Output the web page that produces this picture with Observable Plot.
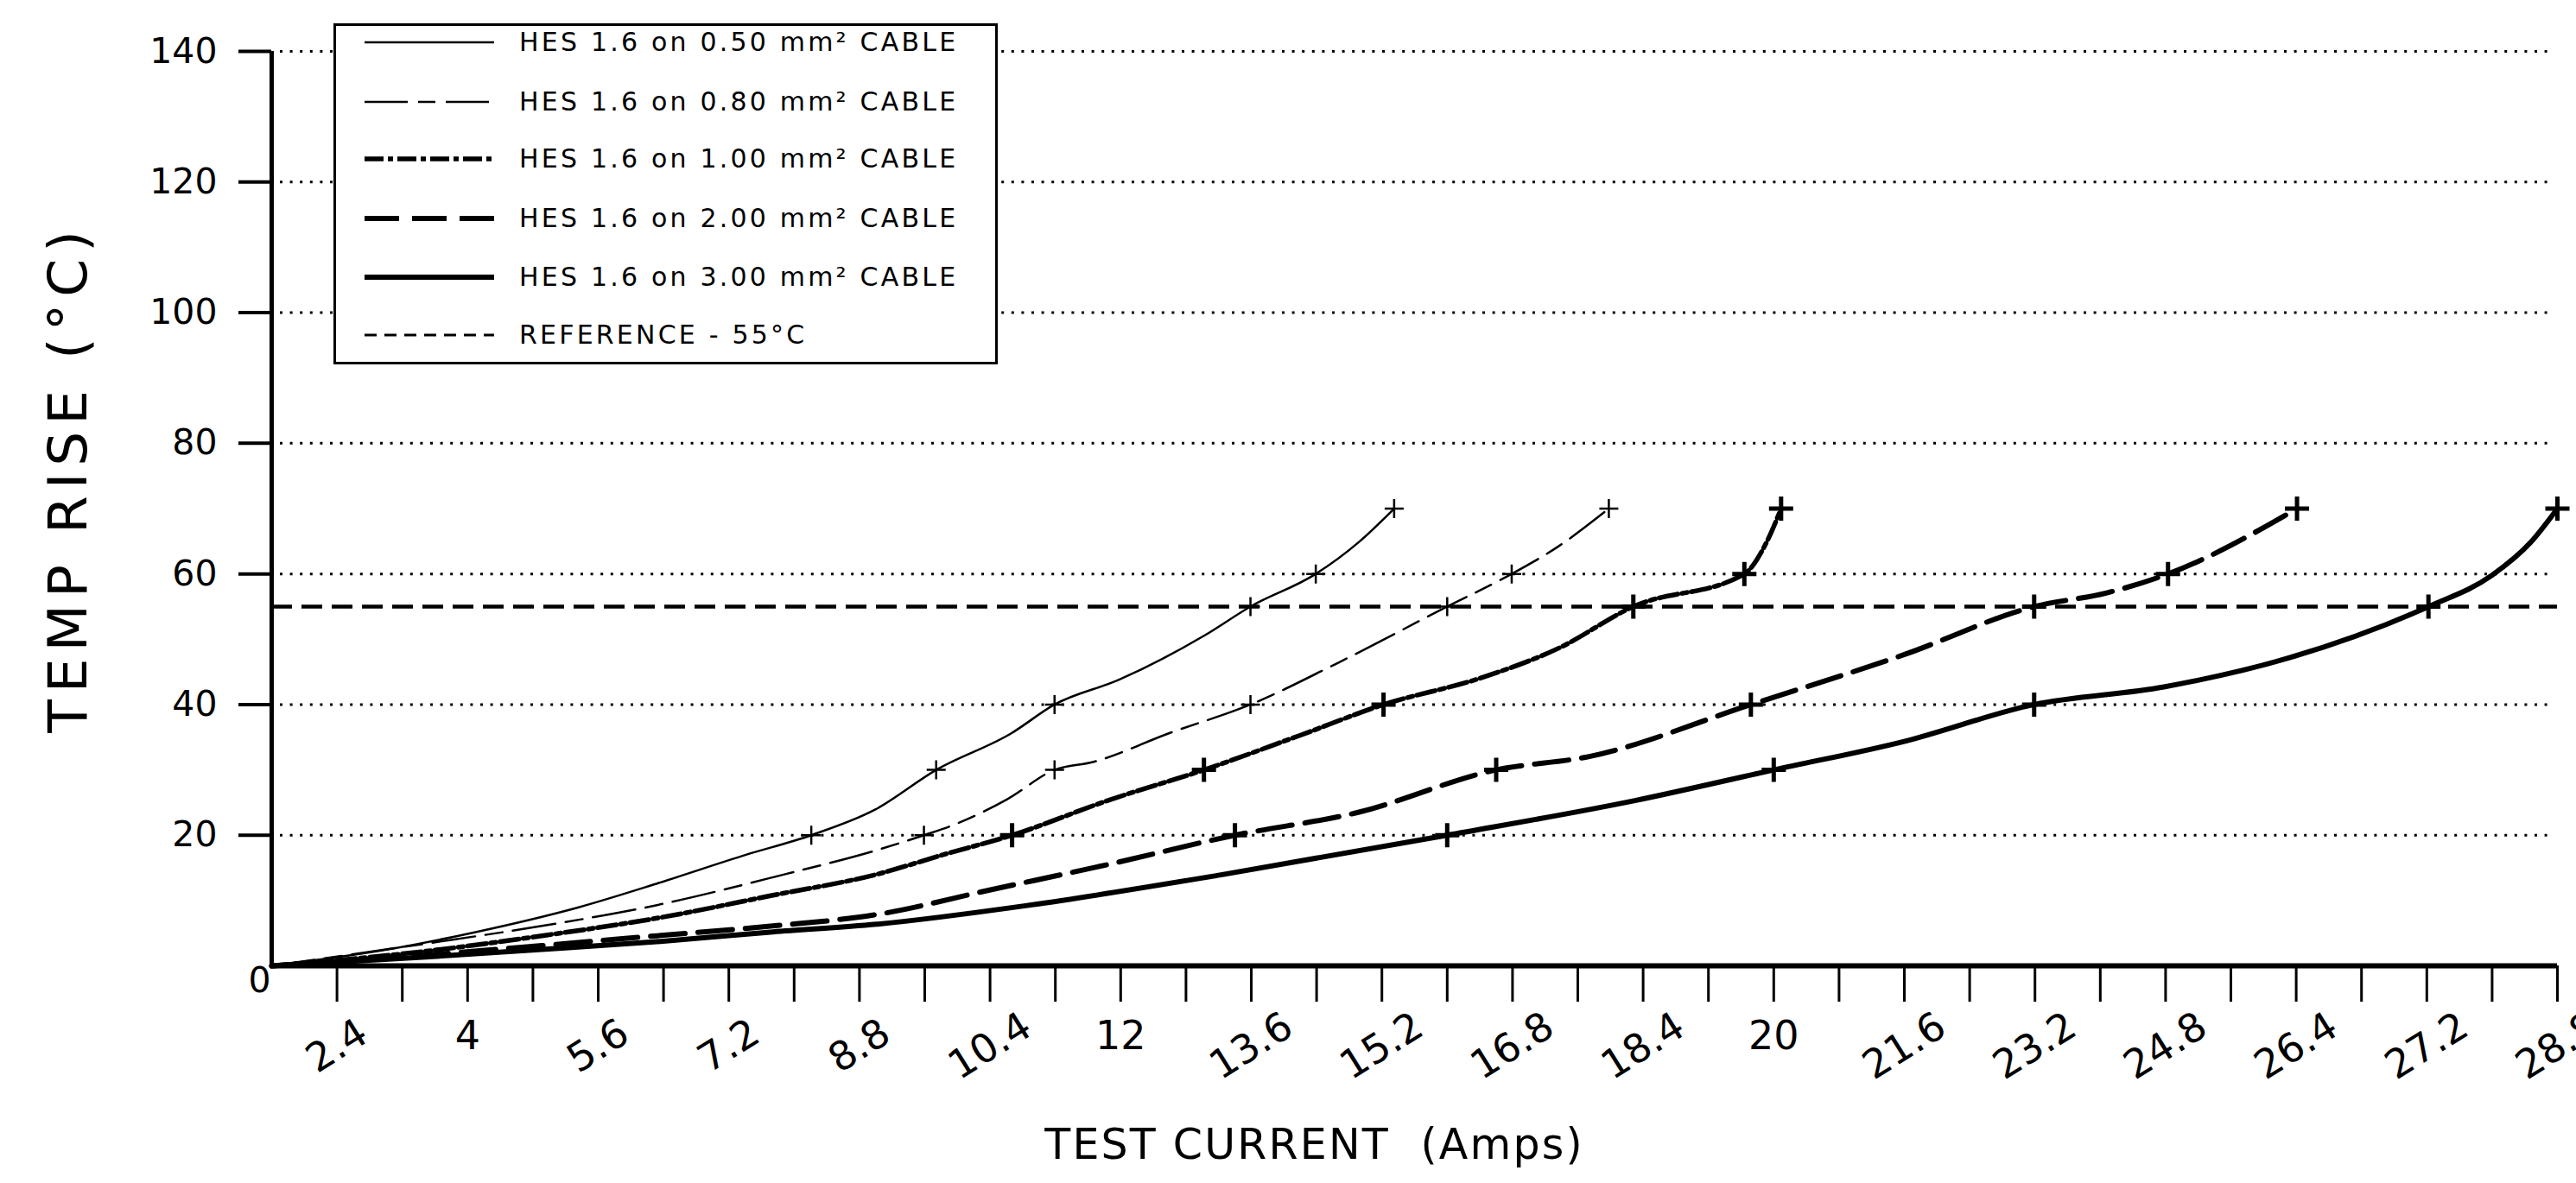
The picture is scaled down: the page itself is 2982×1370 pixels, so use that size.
<!DOCTYPE html>
<html><head><meta charset="utf-8">
<script src="https://cdn.jsdelivr.net/npm/d3@7"></script>
<script src="https://cdn.jsdelivr.net/npm/@observablehq/plot@0.6"></script>
<style>
body{margin:0;background:#fff;}
#wrap{position:relative;width:2982px;height:1370px;}
#legend{position:absolute;left:386px;top:27px;width:763px;height:389px;border:3px solid #000;background:#fff;font-family:"DejaVu Sans";color:#000;}
.row{position:absolute;left:0;height:40px;width:760px;}
.row svg{position:absolute;left:33px;top:0;}
.row span{position:absolute;left:212px;top:0;line-height:40px;font-size:30px;letter-spacing:3.2px;white-space:nowrap;}
</style></head><body><div id="wrap"></div>
<script>
// ---- data ----
const cableLabels = ["HES 1.6 on 0.50 mm² CABLE", "HES 1.6 on 0.80 mm² CABLE", "HES 1.6 on 1.00 mm² CABLE", "HES 1.6 on 2.00 mm² CABLE", "HES 1.6 on 3.00 mm² CABLE"];
const refLabel = "REFERENCE - 55°C";
const refTemp = [55];

const yTicks = [20, 40, 60, 80, 100, 120, 140];
const yOriginLabel = ["0"];
const xDomain = [1.6, 29.6];
const xLabelValues = [2.4, 4, 5.6, 7.2, 8.8, 10.4, 12, 13.6, 15.2, 16.8, 18.4, 20, 21.6, 23.2, 24.8, 26.4, 28, 29.6];
const xTickLabels = ["2.4", "4", "5.6", "7.2", "8.8", "10.4", "12", "13.6", "15.2", "16.8", "18.4", "20", "21.6", "23.2", "24.8", "26.4", "27.2", "28.8"];
const xTitle = "TEST CURRENT  (Amps)";
const yTitle = "TEMP RISE (°C)";

// curves (current in A, temp rise in °C)
const c050I = [1.6, 3.02, 4.11, 5.37, 6.32, 7.41, 8.21, 8.99, 9.74, 10.66, 11.19, 11.98, 13.03, 13.59, 14.39, 14.91, 15.35];
const c050T = [0, 2.5, 5.2, 9.0, 12.6, 17.0, 20, 23.9, 30, 35.6, 40, 43.8, 50.6, 55, 60, 64.8, 70];
const c080I = [1.6, 3.49, 4.91, 6.32, 7.88, 9.01, 9.59, 9.98, 10.61, 11.19, 11.66, 12.59, 13.59, 14.68, 16.0, 16.79, 17.36, 17.98];
const c080T = [0, 3.4, 6.1, 9.3, 14.0, 17.7, 20, 21.7, 25.5, 30, 31.2, 35.6, 40, 46.5, 55, 60, 64.2, 70];
const c100I = [1.6, 3.49, 4.91, 6.32, 7.74, 9.01, 9.85, 10.67, 11.84, 13.02, 14.2, 15.22, 16.42, 17.36, 18.28, 19.64, 19.91, 20.09];
const c100T = [0, 2.24, 4.6, 7.3, 10.8, 14.0, 17.1, 20, 25.3, 30, 35.3, 40, 44.1, 48.6, 55, 60, 64.8, 70];
const c200I = [1.6, 3.49, 4.91, 6.32, 7.74, 9.01, 10.43, 11.84, 13.4, 14.91, 16.6, 17.74, 19.72, 21.61, 23.19, 24.08, 24.83, 26.41];
const c200T = [0, 1.65, 3.1, 4.6, 6.1, 7.85, 11.7, 15.5, 20, 23.5, 30, 32.05, 40, 47.7, 55, 57.1, 60, 70];
const c300I = [1.6, 3.49, 4.91, 6.32, 7.74, 9.01, 10.89, 13.26, 16.0, 18.3, 20.0, 21.61, 23.19, 24.78, 26.3, 28.02, 28.8, 29.27, 29.6];
const c300T = [0, 1.36, 2.5, 3.7, 5.2, 6.37, 9.3, 14.0, 20, 25.3, 30, 34.4, 40, 42.7, 47.1, 55, 59.8, 64.8, 70];

// measured points (+ markers)
const m050I = [8.21, 9.74, 11.19, 13.59, 14.39, 15.35];
const m050T = [20, 30, 40, 55, 60, 70];
const m080I = [9.59, 11.19, 13.59, 16.0, 16.79, 17.98];
const m080T = [20, 30, 40, 55, 60, 70];
const m100I = [10.67, 13.02, 15.22, 18.28, 19.64, 20.09];
const m100T = [20, 30, 40, 55, 60, 70];
const m200I = [13.4, 16.6, 19.72, 23.19, 24.83, 26.41];
const m200T = [20, 30, 40, 55, 60, 70];
const m300I = [16.0, 20.0, 23.19, 28.02, 29.6];
const m300T = [20, 30, 40, 55, 70];

// ---- build ----
const rows = (I, T) => I.map((v, i) => ({I: v, T: T[i]}));
const styles = [
  {strokeWidth: 2.5, dash: null, plusW: 2.5, r: 11},
  {strokeWidth: 2.5, dash: "50,12,20,12", plusW: 2.5, r: 11},
  {strokeWidth: 5.5, dash: "22,5,6,5", plusW: 5, r: 14},
  {strokeWidth: 6, dash: "40,15", plusW: 5, r: 14},
  {strokeWidth: 6, dash: null, plusW: 5, r: 14}
];
const curves = [rows(c050I, c050T), rows(c080I, c080T), rows(c100I, c100T), rows(c200I, c200T), rows(c300I, c300T)];
const marks = [rows(m050I, m050T), rows(m080I, m080T), rows(m100I, m100T), rows(m200I, m200T), rows(m300I, m300T)];

const plusSymbol = {draw(ctx, size) { const h = Math.sqrt(size / Math.PI); ctx.moveTo(-h, 0); ctx.lineTo(h, 0); ctx.moveTo(0, -h); ctx.lineTo(0, h); }};

const xLabels = xLabelValues.map((v, i) => ({v, label: xTickLabels[i]}));
const xMinorTicks = d3.range(xLabelValues[0], xDomain[1] + 0.01, 0.8);

const seriesMarks = [];
curves.forEach((c, k) => {
  const s = styles[k];
  seriesMarks.push(Plot.line(c, {x: "I", y: "T", curve: "monotone-x", stroke: "#000", strokeWidth: s.strokeWidth, strokeDasharray: s.dash || undefined}));
  seriesMarks.push(Plot.dot(marks[k], {x: "I", y: "T", symbol: plusSymbol, r: s.r, stroke: "#000", fill: "none", strokeWidth: s.plusW}));
});

const chart = Plot.plot({
  width: 2982, height: 1370,
  marginLeft: 314, marginRight: 22, marginTop: 59, marginBottom: 252,
  style: {fontFamily: "DejaVu Sans", color: "#000", background: "#fff", overflow: "visible"},
  x: {domain: xDomain, axis: null},
  y: {domain: [0, 140], axis: null},
  marks: [
    Plot.gridY(yTicks, {stroke: "#000", strokeOpacity: 1, strokeWidth: 3, strokeDasharray: "3,8.6", insetLeft: 10, insetRight: 8}),
    Plot.ruleY(refTemp, {stroke: "#000", strokeWidth: 4.5, strokeDasharray: "24,11"}),
    ...seriesMarks,
    Plot.ruleX([xDomain[0]], {y1: 0, y2: 140, stroke: "#000", strokeWidth: 5}),
    Plot.ruleY([0], {stroke: "#000", strokeWidth: 6}),
    Plot.axisY(yTicks, {tickSize: 38, tickPadding: 25, fontSize: 41, strokeWidth: 4, label: null, tickFormat: d => String(d)}),
    Plot.axisX(xMinorTicks, {tickSize: 42, strokeWidth: 3, label: null, tickFormat: () => ""}),
    Plot.text(xLabels.filter(d => d.label.includes(".")), {x: "v", text: "label", frameAnchor: "bottom", dy: 93, rotate: -32, fontSize: 46, textAnchor: "middle", lineAnchor: "middle"}),
    Plot.text(xLabels.filter(d => !d.label.includes(".")), {x: "v", text: "label", frameAnchor: "bottom", dy: 82, fontSize: 46, textAnchor: "middle", lineAnchor: "middle"}),
    Plot.text(yOriginLabel, {frameAnchor: "bottom-left", dx: -14, dy: 17, fontSize: 41, textAnchor: "middle", lineAnchor: "middle"}),
    Plot.text([xTitle], {frameAnchor: "bottom", dx: -116, dy: 208, fontSize: 49, textAnchor: "middle", lineAnchor: "middle"}),
    Plot.text([yTitle], {frameAnchor: "left", dx: -235, dy: -35, rotate: -90, fontSize: 63, textAnchor: "middle", lineAnchor: "middle"})
  ]
});
d3.select(chart).selectAll("text").each(function () {
  if (this.textContent === yTitle) this.setAttribute("letter-spacing", "8");
  if (this.textContent === xTitle) this.setAttribute("letter-spacing", "2.2");
});
const wrap = document.getElementById("wrap");
wrap.appendChild(chart);

// legend
const legend = document.createElement("div");
legend.id = "legend";
const rowCenters = [19, 88, 154, 223, 291, 358];
const legendItems = cableLabels.map((t, k) => ({text: t, w: styles[k].strokeWidth, dash: styles[k].dash}));
legendItems.push({text: refLabel, w: 3, dash: "14,9"});
legendItems.forEach((it, k) => {
  const row = document.createElement("div");
  row.className = "row";
  row.style.top = (rowCenters[k] - 20) + "px";
  row.innerHTML = `<svg width="150" height="40"><line x1="0" y1="20" x2="150" y2="20" stroke="#000" stroke-width="${it.w}" ${it.dash ? `stroke-dasharray="${it.dash}"` : ""}/></svg><span>${it.text}</span>`;
  legend.appendChild(row);
});
wrap.appendChild(legend);
</script></body></html>
